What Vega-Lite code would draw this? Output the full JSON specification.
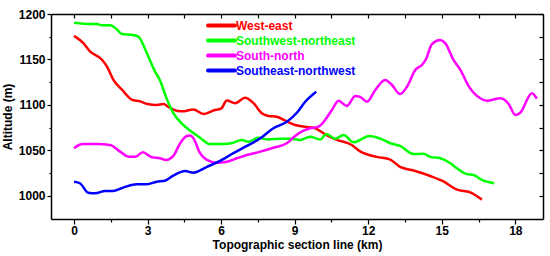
{
  "$schema": "https://vega.github.io/schema/vega-lite/v6.json",
  "width": 492,
  "height": 205,
  "autosize": {"type": "none"},
  "padding": {"left": 51, "top": 14, "right": 7, "bottom": 37},
  "background": "white",
  "config": {
    "view": {"stroke": null},
    "font": "Liberation Sans",
    "axis": {
      "grid": false,
      "domainColor": "black",
      "domainWidth": 1.5,
      "tickColor": "black",
      "tickWidth": 1.2,
      "labelFont": "Liberation Sans",
      "labelFontWeight": "bold",
      "labelFontSize": 12,
      "labelColor": "black",
      "titleFont": "Liberation Sans",
      "titleFontWeight": "bold",
      "titleFontSize": 12,
      "titleColor": "black",
      "labelOverlap": false
    }
  },
  "data": {
    "values": [
      {"dir": "West-east", "x": 0, "y": 1176},
      {"dir": "West-east", "x": 0.38, "y": 1168},
      {"dir": "West-east", "x": 0.65, "y": 1159},
      {"dir": "West-east", "x": 1.13, "y": 1150},
      {"dir": "West-east", "x": 1.35, "y": 1142},
      {"dir": "West-east", "x": 1.6, "y": 1128},
      {"dir": "West-east", "x": 1.95, "y": 1117},
      {"dir": "West-east", "x": 2.35, "y": 1106},
      {"dir": "West-east", "x": 2.7, "y": 1104},
      {"dir": "West-east", "x": 3.0, "y": 1101},
      {"dir": "West-east", "x": 3.37, "y": 1100},
      {"dir": "West-east", "x": 3.65, "y": 1101},
      {"dir": "West-east", "x": 3.85, "y": 1098},
      {"dir": "West-east", "x": 4.05, "y": 1095},
      {"dir": "West-east", "x": 4.4, "y": 1093},
      {"dir": "West-east", "x": 4.87, "y": 1095},
      {"dir": "West-east", "x": 5.28, "y": 1090},
      {"dir": "West-east", "x": 5.69, "y": 1094},
      {"dir": "West-east", "x": 6.0, "y": 1096},
      {"dir": "West-east", "x": 6.23, "y": 1105},
      {"dir": "West-east", "x": 6.57, "y": 1102},
      {"dir": "West-east", "x": 6.98, "y": 1108},
      {"dir": "West-east", "x": 7.32, "y": 1102},
      {"dir": "West-east", "x": 7.66, "y": 1091},
      {"dir": "West-east", "x": 7.93, "y": 1088},
      {"dir": "West-east", "x": 8.27, "y": 1087},
      {"dir": "West-east", "x": 8.68, "y": 1082},
      {"dir": "West-east", "x": 9.02, "y": 1078},
      {"dir": "West-east", "x": 9.43, "y": 1076},
      {"dir": "West-east", "x": 9.77, "y": 1075},
      {"dir": "West-east", "x": 10.3, "y": 1067},
      {"dir": "West-east", "x": 10.7, "y": 1062},
      {"dir": "West-east", "x": 11.33, "y": 1056},
      {"dir": "West-east", "x": 11.67, "y": 1049},
      {"dir": "West-east", "x": 12.35, "y": 1043},
      {"dir": "West-east", "x": 12.9, "y": 1040},
      {"dir": "West-east", "x": 13.3, "y": 1032},
      {"dir": "West-east", "x": 13.85, "y": 1028},
      {"dir": "West-east", "x": 14.53, "y": 1022},
      {"dir": "West-east", "x": 15.07, "y": 1016},
      {"dir": "West-east", "x": 15.62, "y": 1007},
      {"dir": "West-east", "x": 16.16, "y": 1004},
      {"dir": "West-east", "x": 16.64, "y": 996},

      {"dir": "Southwest-northeast", "x": 0, "y": 1190.5},
      {"dir": "Southwest-northeast", "x": 0.65, "y": 1189},
      {"dir": "Southwest-northeast", "x": 0.93, "y": 1189},
      {"dir": "Southwest-northeast", "x": 1.13, "y": 1187.6},
      {"dir": "Southwest-northeast", "x": 1.47, "y": 1187.6},
      {"dir": "Southwest-northeast", "x": 1.75, "y": 1183},
      {"dir": "Southwest-northeast", "x": 1.95, "y": 1178},
      {"dir": "Southwest-northeast", "x": 2.42, "y": 1177},
      {"dir": "Southwest-northeast", "x": 2.63, "y": 1175},
      {"dir": "Southwest-northeast", "x": 2.97, "y": 1157},
      {"dir": "Southwest-northeast", "x": 3.3, "y": 1137},
      {"dir": "Southwest-northeast", "x": 3.5, "y": 1127.5},
      {"dir": "Southwest-northeast", "x": 3.78, "y": 1107},
      {"dir": "Southwest-northeast", "x": 4.05, "y": 1091},
      {"dir": "Southwest-northeast", "x": 4.46, "y": 1078},
      {"dir": "Southwest-northeast", "x": 4.73, "y": 1072},
      {"dir": "Southwest-northeast", "x": 5.14, "y": 1064},
      {"dir": "Southwest-northeast", "x": 5.55, "y": 1057},
      {"dir": "Southwest-northeast", "x": 6.1, "y": 1057},
      {"dir": "Southwest-northeast", "x": 6.5, "y": 1058.6},
      {"dir": "Southwest-northeast", "x": 6.84, "y": 1061.5},
      {"dir": "Southwest-northeast", "x": 7.12, "y": 1059.7},
      {"dir": "Southwest-northeast", "x": 7.52, "y": 1064},
      {"dir": "Southwest-northeast", "x": 7.93, "y": 1062},
      {"dir": "Southwest-northeast", "x": 8.4, "y": 1063},
      {"dir": "Southwest-northeast", "x": 8.8, "y": 1063},
      {"dir": "Southwest-northeast", "x": 9.22, "y": 1061.5},
      {"dir": "Southwest-northeast", "x": 9.63, "y": 1065},
      {"dir": "Southwest-northeast", "x": 10.04, "y": 1062},
      {"dir": "Southwest-northeast", "x": 10.3, "y": 1068},
      {"dir": "Southwest-northeast", "x": 10.65, "y": 1063},
      {"dir": "Southwest-northeast", "x": 11.0, "y": 1067},
      {"dir": "Southwest-northeast", "x": 11.4, "y": 1059},
      {"dir": "Southwest-northeast", "x": 12.05, "y": 1066},
      {"dir": "Southwest-northeast", "x": 12.5, "y": 1063},
      {"dir": "Southwest-northeast", "x": 12.9, "y": 1058},
      {"dir": "Southwest-northeast", "x": 13.3, "y": 1055},
      {"dir": "Southwest-northeast", "x": 13.85, "y": 1046},
      {"dir": "Southwest-northeast", "x": 14.26, "y": 1046.5},
      {"dir": "Southwest-northeast", "x": 14.53, "y": 1043},
      {"dir": "Southwest-northeast", "x": 14.94, "y": 1041.4},
      {"dir": "Southwest-northeast", "x": 15.35, "y": 1036},
      {"dir": "Southwest-northeast", "x": 15.62, "y": 1030.4},
      {"dir": "Southwest-northeast", "x": 16.03, "y": 1024},
      {"dir": "Southwest-northeast", "x": 16.3, "y": 1023},
      {"dir": "Southwest-northeast", "x": 16.64, "y": 1017.6},
      {"dir": "Southwest-northeast", "x": 17.14, "y": 1014},

      {"dir": "South-north", "x": 0, "y": 1052.4},
      {"dir": "South-north", "x": 0.2, "y": 1056},
      {"dir": "South-north", "x": 0.38, "y": 1057},
      {"dir": "South-north", "x": 0.93, "y": 1057},
      {"dir": "South-north", "x": 1.47, "y": 1056},
      {"dir": "South-north", "x": 1.88, "y": 1048.7},
      {"dir": "South-north", "x": 2.22, "y": 1043.2},
      {"dir": "South-north", "x": 2.49, "y": 1043},
      {"dir": "South-north", "x": 2.8, "y": 1048},
      {"dir": "South-north", "x": 3.17, "y": 1042.5},
      {"dir": "South-north", "x": 3.51, "y": 1041.4},
      {"dir": "South-north", "x": 3.76, "y": 1039.6},
      {"dir": "South-north", "x": 4.05, "y": 1044},
      {"dir": "South-north", "x": 4.33, "y": 1058},
      {"dir": "South-north", "x": 4.6, "y": 1066},
      {"dir": "South-north", "x": 4.75, "y": 1066.5},
      {"dir": "South-north", "x": 4.87, "y": 1063.4},
      {"dir": "South-north", "x": 5.14, "y": 1047},
      {"dir": "South-north", "x": 5.42, "y": 1039.6},
      {"dir": "South-north", "x": 5.82, "y": 1036.6},
      {"dir": "South-north", "x": 6.23, "y": 1037.7},
      {"dir": "South-north", "x": 6.64, "y": 1041.4},
      {"dir": "South-north", "x": 7.05, "y": 1045},
      {"dir": "South-north", "x": 7.6, "y": 1048.7},
      {"dir": "South-north", "x": 8.13, "y": 1053},
      {"dir": "South-north", "x": 8.68, "y": 1058},
      {"dir": "South-north", "x": 9.02, "y": 1066},
      {"dir": "South-north", "x": 9.36, "y": 1071.8},
      {"dir": "South-north", "x": 9.63, "y": 1074.4},
      {"dir": "South-north", "x": 9.97, "y": 1076.2},
      {"dir": "South-north", "x": 10.24, "y": 1083.5},
      {"dir": "South-north", "x": 10.52, "y": 1094.5},
      {"dir": "South-north", "x": 10.79, "y": 1104.7},
      {"dir": "South-north", "x": 11.13, "y": 1099},
      {"dir": "South-north", "x": 11.47, "y": 1110},
      {"dir": "South-north", "x": 11.67, "y": 1109},
      {"dir": "South-north", "x": 11.95, "y": 1103.6},
      {"dir": "South-north", "x": 12.29, "y": 1116.5},
      {"dir": "South-north", "x": 12.69, "y": 1127.5},
      {"dir": "South-north", "x": 12.97, "y": 1122},
      {"dir": "South-north", "x": 13.3, "y": 1112},
      {"dir": "South-north", "x": 13.58, "y": 1120},
      {"dir": "South-north", "x": 13.92, "y": 1138.5},
      {"dir": "South-north", "x": 14.19, "y": 1144},
      {"dir": "South-north", "x": 14.35, "y": 1150},
      {"dir": "South-north", "x": 14.6, "y": 1167},
      {"dir": "South-north", "x": 14.94, "y": 1171.4},
      {"dir": "South-north", "x": 15.14, "y": 1168},
      {"dir": "South-north", "x": 15.48, "y": 1149.5},
      {"dir": "South-north", "x": 15.76, "y": 1138.5},
      {"dir": "South-north", "x": 16.09, "y": 1121},
      {"dir": "South-north", "x": 16.57, "y": 1107.4},
      {"dir": "South-north", "x": 16.84, "y": 1104.7},
      {"dir": "South-north", "x": 17.39, "y": 1107.4},
      {"dir": "South-north", "x": 17.73, "y": 1101},
      {"dir": "South-north", "x": 18.0, "y": 1089},
      {"dir": "South-north", "x": 18.2, "y": 1091.5},
      {"dir": "South-north", "x": 18.68, "y": 1113},
      {"dir": "South-north", "x": 18.88, "y": 1107},

      {"dir": "Southeast-northwest", "x": 0, "y": 1015.7},
      {"dir": "Southeast-northwest", "x": 0.24, "y": 1014},
      {"dir": "Southeast-northwest", "x": 0.58, "y": 1003.6},
      {"dir": "Southeast-northwest", "x": 0.86, "y": 1003},
      {"dir": "Southeast-northwest", "x": 1.27, "y": 1005.5},
      {"dir": "Southeast-northwest", "x": 1.6, "y": 1005.5},
      {"dir": "Southeast-northwest", "x": 2.08, "y": 1010},
      {"dir": "Southeast-northwest", "x": 2.56, "y": 1013},
      {"dir": "Southeast-northwest", "x": 2.97, "y": 1013},
      {"dir": "Southeast-northwest", "x": 3.37, "y": 1015.7},
      {"dir": "Southeast-northwest", "x": 3.71, "y": 1016.8},
      {"dir": "Southeast-northwest", "x": 4.05, "y": 1022.3},
      {"dir": "Southeast-northwest", "x": 4.53, "y": 1027.5},
      {"dir": "Southeast-northwest", "x": 4.87, "y": 1025.6},
      {"dir": "Southeast-northwest", "x": 5.42, "y": 1032},
      {"dir": "Southeast-northwest", "x": 5.89, "y": 1037.7},
      {"dir": "Southeast-northwest", "x": 6.5, "y": 1047},
      {"dir": "Southeast-northwest", "x": 7.05, "y": 1055},
      {"dir": "Southeast-northwest", "x": 7.6, "y": 1063.4},
      {"dir": "Southeast-northwest", "x": 8.13, "y": 1074.4},
      {"dir": "Southeast-northwest", "x": 8.68, "y": 1081.6},
      {"dir": "Southeast-northwest", "x": 9.09, "y": 1091.5},
      {"dir": "Southeast-northwest", "x": 9.43, "y": 1103.6},
      {"dir": "Southeast-northwest", "x": 9.88, "y": 1114.6}
    ]
  },
  "layer": [
    {
      "mark": {"type": "line", "strokeWidth": 2.5, "interpolate": "monotone"},
      "encoding": {
        "x": {
          "field": "x", "type": "quantitative",
          "scale": {"domain": [-0.94, 19.13], "nice": false, "zero": false},
          "axis": {
            "orient": "bottom",
            "title": "Topographic section line (km)",
            "values": [0, 1.5, 3, 4.5, 6, 7.5, 9, 10.5, 12, 13.5, 15, 16.5, 18],
            "labelExpr": "datum.value % 3 === 0 ? datum.label : ''",
            "tickSize": {"condition": {"test": "datum.value % 3 === 0", "value": 5}, "value": 3},
            "labelPadding": 1,
            "titlePadding": 3
          }
        },
        "y": {
          "field": "y", "type": "quantitative",
          "scale": {"domain": [974.7, 1200], "nice": false, "zero": false},
          "axis": {
            "orient": "left",
            "title": "Altitude (m)",
            "format": "d",
            "values": [1000, 1025, 1050, 1075, 1100, 1125, 1150, 1175, 1200],
            "labelExpr": "datum.value % 50 === 0 ? datum.label : ''",
            "tickSize": {"condition": {"test": "datum.value % 50 === 0", "value": 4}, "value": 2},
            "labelPadding": 2,
            "titlePadding": 4
          }
        },
        "color": {
          "field": "dir", "type": "nominal",
          "scale": {
            "domain": ["West-east", "Southwest-northeast", "South-north", "Southeast-northwest"],
            "range": ["#ff0000", "#00ff00", "#ff00ff", "#0000ff"]
          },
          "legend": {
            "orient": "none",
            "legendX": 164,
            "legendY": 5,
            "title": null,
            "symbolType": "M-3,0H3",
            "symbolSize": 81,
            "symbolStrokeWidth": 4,
            "labelFont": "Liberation Sans",
            "labelFontWeight": "bold",
            "labelFontSize": 12,
            "labelOffset": 8,
            "rowPadding": -2,
            "padding": 0,
            "encode": {
              "symbols": {"update": {"strokeCap": {"value": "round"}}},
              "labels": {"update": {"fill": {"scale": "color", "field": "value"}}}
            }
          }
        }
      }
    },
    {
      "mark": {"type": "line", "opacity": 0},
      "encoding": {
        "x": {
          "field": "x", "type": "quantitative",
          "axis": {
            "orient": "top", "title": null, "labels": false,
            "values": [0, 1.5, 3, 4.5, 6, 7.5, 9, 10.5, 12, 13.5, 15, 16.5, 18],
            "tickSize": -4
          }
        },
        "y": {
          "field": "y", "type": "quantitative",
          "axis": {
            "orient": "right", "title": null, "labels": false,
            "values": [1000, 1025, 1050, 1075, 1100, 1125, 1150, 1175, 1200],
            "tickSize": -4
          }
        },
        "detail": {"field": "dir"}
      }
    }
  ],
  "resolve": {"axis": {"x": "independent", "y": "independent"}}
}
